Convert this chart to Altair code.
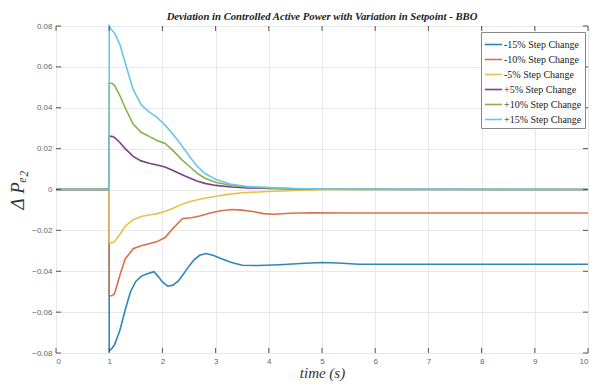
import altair as alt
import pandas as pd

series_names = ["-15% Step Change", "-10% Step Change", "-5% Step Change",
                "+5% Step Change", "+10% Step Change", "+15% Step Change"]
series_colors = ["#2f86ba", "#d8714a", "#e9c04c", "#7d3f8c", "#84b34a", "#69c7e9"]

t_m15 = [0, 1, 1, 1.05, 1.1, 1.2, 1.3, 1.4, 1.5, 1.6, 1.7, 1.84, 1.92, 2.0, 2.1, 2.2, 2.3, 2.4, 2.5,
         2.6, 2.7, 2.82, 2.95, 3.1, 3.3, 3.5, 3.8, 4.2, 4.6, 5.0, 5.3, 5.7, 6.5, 10]
v_m15 = [0, 0, -0.079, -0.0778, -0.076, -0.069, -0.059, -0.050, -0.045, -0.0425, -0.0413, -0.0402,
         -0.0425, -0.0452, -0.0473, -0.0468, -0.0447, -0.0412, -0.0375, -0.0343, -0.0322, -0.0313,
         -0.0322, -0.0338, -0.0357, -0.0371, -0.0372, -0.0368, -0.0362, -0.0357, -0.0360, -0.0366,
         -0.0366, -0.0366]

t_m10 = [0, 1, 1, 1.05, 1.1, 1.2, 1.3, 1.45, 1.6, 1.75, 1.9, 2.05, 2.2, 2.38, 2.55, 2.7, 2.9, 3.1,
         3.3, 3.5, 3.7, 3.9, 4.1, 4.4, 4.8, 5.5, 10]
v_m10 = [0, 0, -0.052, -0.052, -0.051, -0.042, -0.034, -0.029, -0.0275, -0.0265, -0.0255, -0.0235,
         -0.019, -0.0142, -0.0138, -0.013, -0.0115, -0.0104, -0.0098, -0.0101, -0.0108, -0.0118,
         -0.0121, -0.0116, -0.0114, -0.0115, -0.0115]

t_m5 = [0, 1, 1, 1.05, 1.1, 1.2, 1.3, 1.45, 1.6, 1.75, 1.9, 2.05, 2.2, 2.35, 2.5, 2.7, 2.9, 3.2,
        3.5, 4.0, 4.5, 5, 10]
v_m5 = [0, 0, -0.026, -0.026, -0.0255, -0.022, -0.018, -0.0148, -0.0132, -0.0125, -0.0118, -0.0108,
        -0.0092, -0.0074, -0.006, -0.0048, -0.0038, -0.0025, -0.0016, -0.001, -0.0005, -0.0001, 0]

t_pos = [0, 1, 1, 1.05, 1.1, 1.2, 1.3, 1.45, 1.6, 1.75, 1.9, 2.05, 2.2, 2.35, 2.5, 2.65, 2.8, 3.0,
         3.3, 3.6, 4.0, 4.5, 5, 10]
v_p5 = [0, 0, 0.026, 0.026, 0.0255, 0.023, 0.020, 0.0162, 0.014, 0.0128, 0.012, 0.011, 0.0093,
        0.0075, 0.0058, 0.0042, 0.003, 0.002, 0.0012, 0.0008, 0.0005, 0.0003, 0.0001, 0]
v_p10 = [0, 0, 0.052, 0.052, 0.051, 0.046, 0.040, 0.032, 0.028, 0.026, 0.024, 0.0225, 0.019,
         0.015, 0.0115, 0.008, 0.0055, 0.0035, 0.002, 0.0012, 0.0008, 0.0004, 0.0001, 0]
v_p15 = [0, 0, 0.080, 0.078, 0.0765, 0.071, 0.062, 0.049, 0.0415, 0.038, 0.0353, 0.0315, 0.027,
         0.022, 0.0165, 0.0115, 0.0078, 0.005, 0.0025, 0.0015, 0.001, 0.0005, 0.0002, 0]

x_ticks = [0, 1, 2, 3, 4, 5, 6, 7, 8, 9, 10]
y_ticks = [-0.08, -0.06, -0.04, -0.02, 0, 0.02, 0.04, 0.06, 0.08]

all_t = [t_m15, t_m10, t_m5, t_pos, t_pos, t_pos]
all_v = [v_m15, v_m10, v_m5, v_p5, v_p10, v_p15]

rows = []
for si, (name, ts, vs) in enumerate(zip(series_names, all_t, all_v)):
    for i, (t, v) in enumerate(zip(ts, vs)):
        rows.append({"series": name, "t": t, "v": v, "ord": i, "s": si})
df = pd.DataFrame(rows)

W, H = 532, 327
xs = alt.Scale(domain=[0, 10], nice=False)
ys = alt.Scale(domain=[-0.08, 0.08], nice=False)

lines = alt.Chart(df).mark_line(strokeWidth=1.6).encode(
    x=alt.X("t:Q", scale=xs,
            axis=alt.Axis(values=x_ticks, title="time (s)", format="d", ticks=False,
                          domain=False, labelFontSize=8, labelColor="#666", labelFont="Liberation Sans",
                          labelPadding=4, titleFont="Liberation Serif", titleFontStyle="italic",
                          titleFontWeight="normal", titleFontSize=15, titleColor="#333",
                          titlePadding=0, gridColor="#e8e8e8")),
    y=alt.Y("v:Q", scale=ys,
            axis=alt.Axis(values=y_ticks, title="Δ Pₑ₂", ticks=False, domain=False,
                          labelExpr="datum.value == 0 ? '0' : format(datum.value, '.2f')",
                          labelFontSize=8, labelColor="#666", labelFont="Liberation Sans",
                          labelPadding=4, titleFont="Liberation Serif", titleFontStyle="italic",
                          titleFontWeight="normal", titleFontSize=19, titleColor="#333",
                          titlePadding=4, gridColor="#e8e8e8")),
    color=alt.Color("series:N", sort=series_names,
                    scale=alt.Scale(domain=series_names, range=series_colors),
                    legend=alt.Legend(title=None, orient="none", legendX=425, legendY=6,
                                      fillColor="white", strokeColor="#888", padding=3,
                                      labelFont="Liberation Serif", labelFontSize=10,
                                      labelColor="#222", symbolType="stroke", symbolSize=300,
                                      symbolStrokeWidth=1.6, rowPadding=-2.3, labelOffset=1)),
    order="ord:Q",
    detail="s:O",
)

tick_color = "#555"
xt = pd.DataFrame({"x": x_ticks})
yt = pd.DataFrame({"y": y_ticks})
top_ticks = alt.Chart(xt).mark_rule(color=tick_color).encode(
    x=alt.X("x:Q", scale=xs), y=alt.value(0), y2=alt.value(5))
bot_ticks = alt.Chart(xt).mark_rule(color=tick_color).encode(
    x=alt.X("x:Q", scale=xs), y=alt.value(H), y2=alt.value(H - 5))
left_ticks = alt.Chart(yt).mark_rule(color=tick_color).encode(
    y=alt.Y("y:Q", scale=ys), x=alt.value(0), x2=alt.value(5))
right_ticks = alt.Chart(yt).mark_rule(color=tick_color).encode(
    y=alt.Y("y:Q", scale=ys), x=alt.value(W), x2=alt.value(W - 5))

chart = alt.layer(lines, top_ticks, bot_ticks, left_ticks, right_ticks).properties(
    width=W, height=H,
    title=alt.Title("Deviation in Controlled Active Power with Variation in Setpoint - BBO",
                    font="Liberation Serif", fontStyle="italic", fontWeight="bold",
                    fontSize=10.7, color="#222", anchor="middle", offset=3, dy=4),
    autosize=alt.AutoSizeParams(type="none"),
    padding={"left": 48, "top": 18, "right": 1, "bottom": 28},
).configure_view(stroke="#555", strokeWidth=1).configure(background="white")

chart.save("out.html", embed_options={"renderer": "svg", "actions": False})
